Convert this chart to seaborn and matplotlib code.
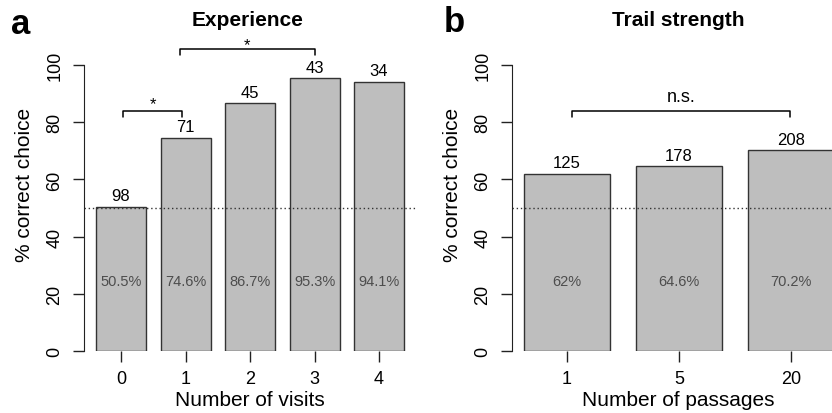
import seaborn as sns
import matplotlib.pyplot as plt
import pandas as pd

# ----------------------- Data -----------------------
visits = ['0', '1', '2', '3', '4']
visits_pct = [50.5, 74.6, 86.7, 95.3, 94.1]
visits_n = [98, 71, 45, 43, 34]

passages = ['1', '5', '20']
passages_pct = [62.0, 64.6, 70.2]
passages_n = [125, 178, 208]
passages_lbl = ['62%', '64.6%', '70.2%']

sns.set_style('ticks')
plt.rcParams['font.family'] = ['Liberation Sans', 'DejaVu Sans']
plt.rcParams.update({'text.color': 'black', 'axes.labelcolor': 'black',
                     'xtick.color': 'black', 'ytick.color': 'black'})

BAR_FILL = '#bebebe'
EDGE = '#333333'

fig = plt.figure(figsize=(8.32, 4.14), dpi=100)
W, H = 832, 414


def px_axes(left, right, bottom, top):
    return fig.add_axes([left / W, (H - bottom) / H, (right - left) / W, (bottom - top) / H])


def style_axis(ax, xlim, xlabel, xlabel_x=0.5):
    ax.set_xlim(*xlim)
    ax.set_ylim(0, 116.8)
    sns.despine(ax=ax, bottom=True)
    ax.spines['left'].set_bounds(0, 100)
    ax.spines['left'].set_color('#222222')
    ax.set_yticks([0, 20, 40, 60, 80, 100])
    ax.tick_params(axis='y', labelrotation=90, length=8, width=1, pad=7, labelsize=13, color='#222222')
    for lab in ax.get_yticklabels():
        lab.set_va('center')
    ax.tick_params(axis='x', length=8, width=1, pad=6, labelsize=13, color='#222222')
    ax.set_xlabel(xlabel, fontsize=15, labelpad=2, x=xlabel_x, ha='center')
    ax.set_ylabel('% correct choice', fontsize=15, labelpad=9)
    ax.axhline(50, ls=(0, (1, 2)), color='#333333', lw=1)


def bracket(ax, x0, x1, y, label, dy=2.0, size=12, ly=None):
    ax.plot([x0, x0, x1, x1], [y - dy, y, y, y - dy], color='black', lw=1.1, clip_on=False)
    ax.text((x0 + x1) / 2, ly, label, ha='center', va='center', fontsize=size, clip_on=False)


# ----------------------- Panel a: Experience -----------------------
ax1 = px_axes(84, 416, 352, 18)
df_a = pd.DataFrame({'visits': visits, 'pct': visits_pct})
sns.barplot(data=df_a, x='visits', y='pct', order=visits, color=BAR_FILL,
            edgecolor=EDGE, linewidth=1, width=0.775, saturation=1, ax=ax1)
style_axis(ax1, (-0.574, 4.573), 'Number of visits')
for i, (p, n) in enumerate(zip(visits_pct, visits_n)):
    ax1.text(i, p + 1.2, str(n), ha='center', va='bottom', fontsize=12)
    ax1.text(i, 24.5, f'{p}%', ha='center', va='center', fontsize=10.5, color='#4d4d4d')
bracket(ax1, 0.03, 0.95, 84, '*', ly=86.5)
bracket(ax1, 0.915, 3.0, 105.6, '*', ly=107.3)

# ----------------------- Panel b: Trail strength -----------------------
ax2 = px_axes(512, 832, 352, 18)
df_b = pd.DataFrame({'passages': passages, 'pct': passages_pct})
sns.barplot(data=df_b, x='passages', y='pct', order=passages, color=BAR_FILL,
            edgecolor=EDGE, linewidth=1, width=0.77, saturation=1, ax=ax2)
style_axis(ax2, (-0.49, 2.367), 'Number of passages', xlabel_x=(678 - 512) / 320)
for i, (p, n, s) in enumerate(zip(passages_pct, passages_n, passages_lbl)):
    ax2.text(i, p + 1.2, str(n), ha='center', va='bottom', fontsize=12)
    ax2.text(i, 24.5, s, ha='center', va='center', fontsize=10.5, color='#4d4d4d')
bracket(ax2, 0.045, 1.99, 84, 'n.s.', size=13, ly=89)

# ----------------------- Titles and panel letters -----------------------
fig.text(248 / W, 1 - 20 / H, 'Experience', ha='center', va='center', fontsize=15, fontweight='bold')
fig.text(678 / W, 1 - 20 / H, 'Trail strength', ha='center', va='center', fontsize=15, fontweight='bold')
fig.text(11 / W, 1 - 24 / H, 'a', ha='left', va='center', fontsize=25, fontweight='bold')
fig.text(444 / W, 1 - 22 / H, 'b', ha='left', va='center', fontsize=25, fontweight='bold')

fig.savefig('out.png', dpi=100, facecolor='white')
